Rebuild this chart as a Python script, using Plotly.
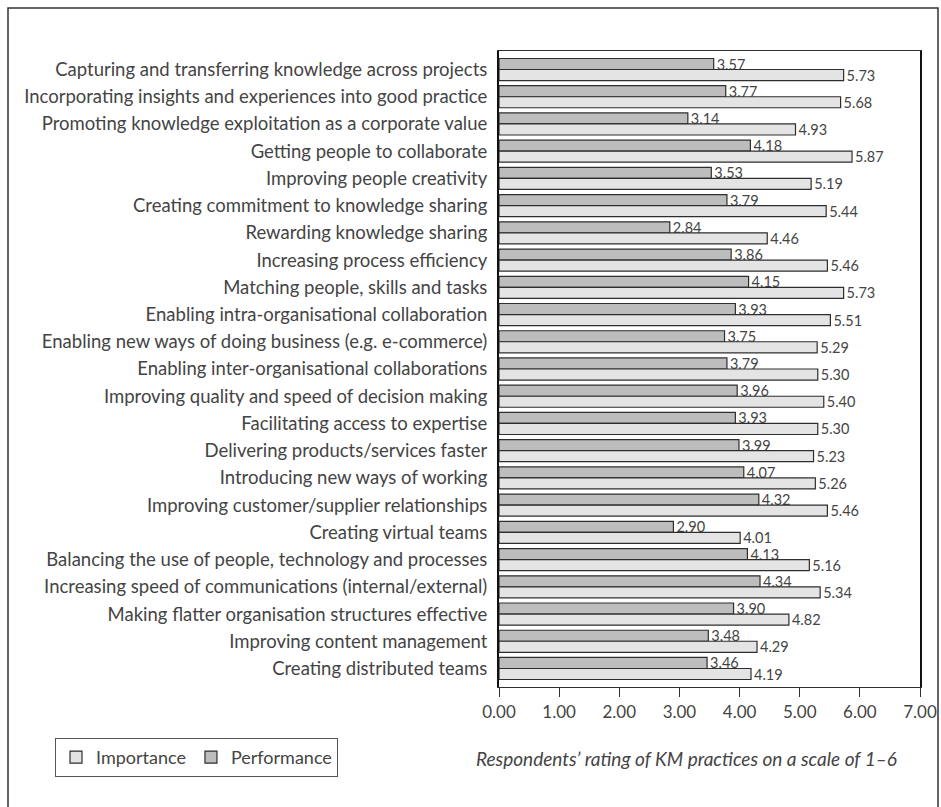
import plotly.graph_objects as go

# KM practices, listed top to bottom
practices = [
    "Capturing and transferring knowledge across projects",
    "Incorporating insights and experiences into good practice",
    "Promoting knowledge exploitation as a corporate value",
    "Getting people to collaborate",
    "Improving people creativity",
    "Creating commitment to knowledge sharing",
    "Rewarding knowledge sharing",
    "Increasing process efficiency",
    "Matching people, skills and tasks",
    "Enabling intra-organisational collaboration",
    "Enabling new ways of doing business (e.g. e-commerce)",
    "Enabling inter-organisational collaborations",
    "Improving quality and speed of decision making",
    "Facilitating access to expertise",
    "Delivering products/services faster",
    "Introducing new ways of working",
    "Improving customer/supplier relationships",
    "Creating virtual teams",
    "Balancing the use of people, technology and processes",
    "Increasing speed of communications (internal/external)",
    "Making flatter organisation structures effective",
    "Improving content management",
    "Creating distributed teams",
]

performance = [3.57, 3.77, 3.14, 4.18, 3.53, 3.79, 2.84, 3.86, 4.15, 3.93, 3.75,
               3.79, 3.96, 3.93, 3.99, 4.07, 4.32, 2.90, 4.13, 4.34, 3.90, 3.48, 3.46]
importance = [5.73, 5.68, 4.93, 5.87, 5.19, 5.44, 4.46, 5.46, 5.73, 5.51, 5.29,
              5.30, 5.40, 5.30, 5.23, 5.26, 5.46, 4.01, 5.16, 5.34, 4.82, 4.29, 4.19]

x_ticks = [0, 1, 2, 3, 4, 5, 6, 7]

caption = "Respondents\u2019 rating of KM practices on a scale of 1\u20136"

FONT = "Lato"
TEXT = "#444444"
EDGE = "#2e2e2e"

W, H = 941, 807
L, R, T, B = 499, 21, 51, 120
PW, PH = W - L - R, H - T - B


def px_x(p):
    return (p - L) / PW


def px_y(p):
    return (H - B - p) / PH


y_idx = list(range(len(practices)))

fig = go.Figure()
fig.add_trace(go.Bar(
    name="Performance", y=y_idx, x=performance, orientation="h",
    marker=dict(color="#bdbdbd", line=dict(color=EDGE, width=1.2)),
    text=performance, texttemplate="%{x:.2f}", textposition="outside",
    textfont=dict(family=FONT, size=14.5, color=TEXT), constraintext="none",
    cliponaxis=False, legendrank=2,
))
fig.add_trace(go.Bar(
    name="Importance", y=y_idx, x=importance, orientation="h",
    marker=dict(color="#e4e4e4", line=dict(color=EDGE, width=1.2)),
    text=importance, texttemplate="%{x:.2f}", textposition="outside",
    textfont=dict(family=FONT, size=14.5, color=TEXT), constraintext="none",
    cliponaxis=False, legendrank=1,
))

fig.update_layout(
    width=W, height=H,
    margin=dict(l=L, r=R, t=T, b=B, autoexpand=False),
    paper_bgcolor="white", plot_bgcolor="white",
    barmode="group", bargap=0.19, bargroupgap=0,
    font=dict(family=FONT, size=17, color=TEXT),
    showlegend=True,
    legend=dict(
        orientation="h", x=px_x(55), y=px_y(738), xanchor="left", yanchor="top",
        bordercolor="#555", borderwidth=1, bgcolor="white",
        font=dict(family=FONT, size=18, color=TEXT), itemwidth=30,
    ),
    xaxis=dict(
        range=[0, 7], tickvals=x_ticks, tickformat=".2f",
        showgrid=False, zeroline=False, automargin=False,
        showline=True, linecolor=EDGE, linewidth=1.2, mirror=True,
        ticks="outside", ticklen=9, tickcolor=EDGE, tickwidth=1.2,
        ticklabeloverflow="allow",
        tickfont=dict(family=FONT, size=17, color=TEXT),
    ),
    yaxis=dict(
        range=[len(practices) - 1 + 0.68, -0.68],
        tickvals=y_idx, ticktext=practices,
        showgrid=False, zeroline=False, automargin=False,
        showline=True, linecolor="#111", linewidth=2, mirror=True,
        ticks="", ticklabelstandoff=6,
        tickfont=dict(family=FONT, size=18.5, color=TEXT),
    ),
    annotations=[dict(
        text=caption, xref="paper", yref="paper",
        x=px_x(686), y=px_y(758), xanchor="center", yanchor="middle",
        showarrow=False, font=dict(family=FONT, size=19, color=TEXT, style="italic"),
    )],
    shapes=[dict(
        type="rect", xref="paper", yref="paper",
        x0=px_x(8), x1=px_x(938), y0=px_y(812), y1=px_y(8),
        line=dict(color="#333", width=1.5), fillcolor="rgba(0,0,0,0)", layer="below",
    )],
)

fig.write_html("out.html")
